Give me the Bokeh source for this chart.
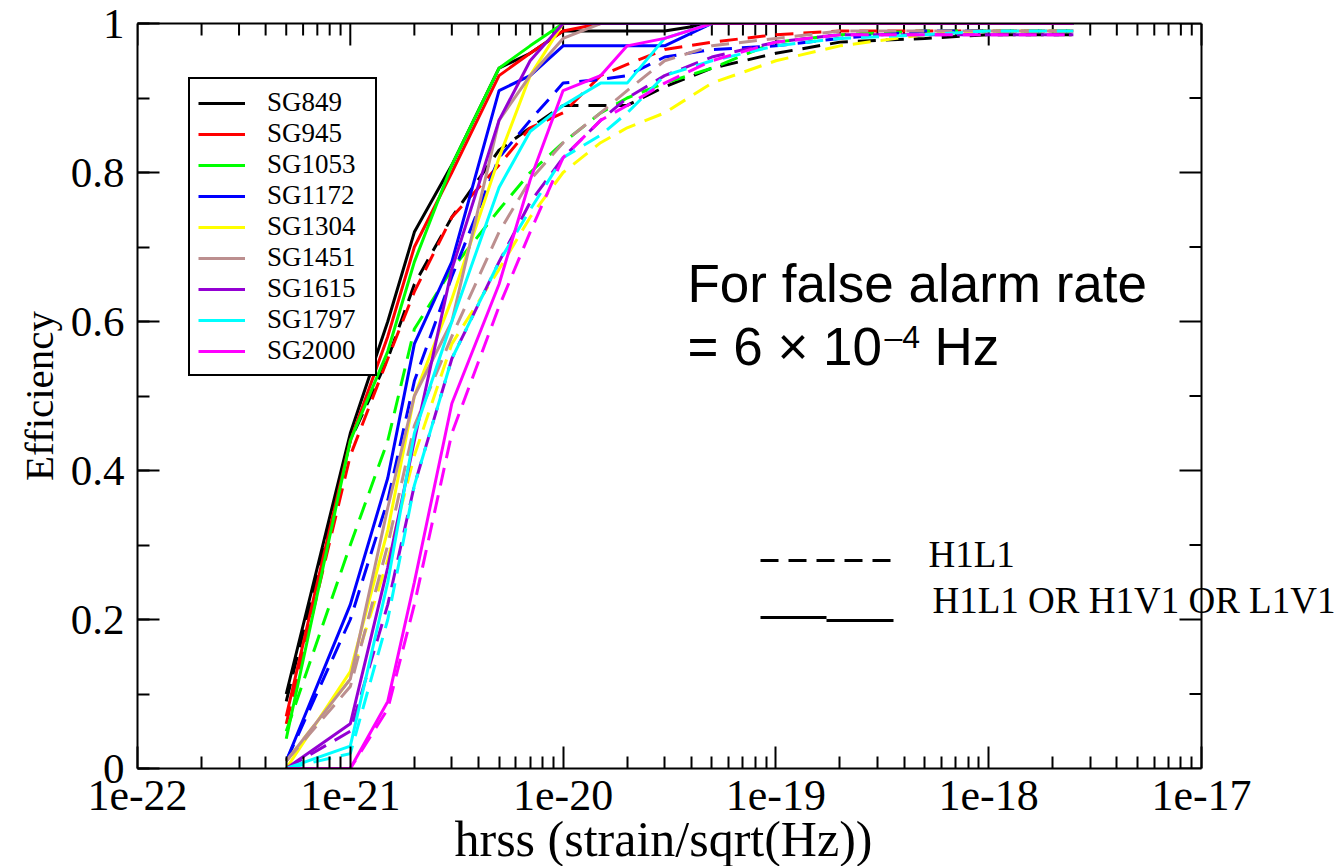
import math
from bokeh.plotting import figure
from bokeh.models import (Range1d, Legend, LegendItem, Label, FixedTicker, Span, Arrow, Title,
                          SingleIntervalTicker, CustomJSTickFormatter, LogAxis)
from bokeh.embed import file_html
from bokeh.resources import INLINE

# ---------------- data ----------------
hrss = [5e-22, 1e-21, 1.5e-21, 2e-21, 3e-21, 5e-21, 7e-21, 1e-20, 1.5e-20, 2e-20,
        3e-20, 5e-20, 1e-19, 2e-19, 5e-19, 1e-18, 2.5e-18]

names = ["SG849", "SG945", "SG1053", "SG1172", "SG1304", "SG1451", "SG1615", "SG1797", "SG2000"]
colors = ["#000000", "#ff0000", "#00ff00", "#0000ff", "#ffff00", "#bc8f8f", "#9400d3", "#00ffff", "#ff00ff"]

# network "H1L1 OR H1V1 OR L1V1" (solid)
eff_or_sg849 = [0.10, 0.45, 0.60, 0.72, 0.81, 0.94, 0.96, 0.99, 0.99, 0.99, 0.99, 1, 1, 1, 1, 1, 1]
eff_or_sg945 = [0.07, 0.44, 0.58, 0.70, 0.80, 0.93, 0.96, 0.99, 1, 1, 1, 1, 1, 1, 1, 1, 1]
eff_or_sg1053 = [0.04, 0.44, 0.56, 0.68, 0.81, 0.94, 0.97, 1, 1, 1, 1, 1, 1, 1, 1, 1, 1]
eff_or_sg1172 = [0.01, 0.22, 0.39, 0.57, 0.68, 0.91, 0.93, 0.97, 0.97, 0.97, 0.97, 1, 1, 1, 1, 1, 1]
eff_or_sg1304 = [0.0, 0.13, 0.32, 0.50, 0.63, 0.82, 0.93, 1, 1, 1, 1, 1, 1, 1, 1, 1, 1]
eff_or_sg1451 = [0.01, 0.12, 0.35, 0.50, 0.60, 0.87, 0.93, 0.98, 1, 1, 1, 1, 1, 1, 1, 1, 1]
eff_or_sg1615 = [0.0, 0.06, 0.27, 0.44, 0.67, 0.87, 0.95, 1, 1, 1, 1, 1, 1, 1, 1, 1, 1]
eff_or_sg1797 = [0.0, 0.03, 0.25, 0.45, 0.60, 0.78, 0.855, 0.89, 0.92, 0.92, 0.98, 1, 1, 1, 1, 1, 1]
eff_or_sg2000 = [0.0, 0.0, 0.09, 0.25, 0.49, 0.65, 0.79, 0.91, 0.93, 0.97, 0.98, 1, 1, 1, 1, 1, 1]

# network "H1L1" (dashed)
eff_h1l1_sg849 = [0.09, 0.44, 0.55, 0.65, 0.74, 0.83, 0.86, 0.89, 0.89, 0.89, 0.915, 0.94, 0.96, 0.975, 0.98, 0.985, 0.985]
eff_h1l1_sg945 = [0.06, 0.42, 0.55, 0.64, 0.74, 0.81, 0.86, 0.88, 0.93, 0.945, 0.965, 0.975, 0.985, 0.99, 0.99, 0.99, 0.99]
eff_h1l1_sg1053 = [0.05, 0.30, 0.44, 0.59, 0.67, 0.75, 0.80, 0.84, 0.88, 0.90, 0.92, 0.94, 0.975, 0.985, 0.99, 0.99, 0.99]
eff_h1l1_sg1172 = [0.01, 0.20, 0.36, 0.52, 0.66, 0.82, 0.87, 0.92, 0.925, 0.93, 0.955, 0.965, 0.97, 0.98, 0.99, 0.99, 0.99]
eff_h1l1_sg1304 = [0.01, 0.12, 0.28, 0.42, 0.57, 0.67, 0.74, 0.80, 0.84, 0.86, 0.88, 0.92, 0.95, 0.97, 0.985, 0.99, 0.99]
eff_h1l1_sg1451 = [0.01, 0.11, 0.30, 0.46, 0.58, 0.72, 0.79, 0.84, 0.88, 0.91, 0.95, 0.97, 0.98, 0.99, 0.99, 0.99, 0.99]
eff_h1l1_sg1615 = [0.0, 0.05, 0.22, 0.38, 0.55, 0.68, 0.76, 0.82, 0.87, 0.90, 0.93, 0.955, 0.975, 0.985, 0.985, 0.985, 0.985]
eff_h1l1_sg1797 = [0.0, 0.02, 0.20, 0.38, 0.55, 0.68, 0.75, 0.82, 0.85, 0.88, 0.93, 0.95, 0.97, 0.98, 0.985, 0.99, 0.99]
eff_h1l1_sg2000 = [0.0, 0.0, 0.08, 0.22, 0.45, 0.62, 0.72, 0.82, 0.87, 0.89, 0.92, 0.95, 0.975, 0.985, 0.985, 0.985, 0.985]

eff_or = [eff_or_sg849, eff_or_sg945, eff_or_sg1053, eff_or_sg1172, eff_or_sg1304,
          eff_or_sg1451, eff_or_sg1615, eff_or_sg1797, eff_or_sg2000]
eff_h1l1 = [eff_h1l1_sg849, eff_h1l1_sg945, eff_h1l1_sg1053, eff_h1l1_sg1172, eff_h1l1_sg1304,
            eff_h1l1_sg1451, eff_h1l1_sg1615, eff_h1l1_sg1797, eff_h1l1_sg2000]

x_decades = [-22, -21, -20, -19, -18, -17]
y_major = [0, 0.2, 0.4, 0.6, 0.8, 1.0]
y_minor = [0.1, 0.3, 0.5, 0.7, 0.9]

x_title = "hrss (strain/sqrt(Hz))"
y_title = "Efficiency"
net_labels = ["H1L1", "H1L1 OR H1V1 OR L1V1"]

# ---------------- layout constants ----------------
W, H = 1338, 866
LEFT, TOP, BOTTOM = 137, 23, 98
BOX_W = 1064                       # width of the drawn plot box (5 decades)
DEC_PX = BOX_W / (len(x_decades) - 1)
x_lo = 10.0 ** x_decades[0]
x_hi = 10.0 ** x_decades[-1]
# the frame runs on to the right edge so the legend text is not clipped
x_frame_end = 10.0 ** (x_decades[-1] + (W - LEFT - BOX_W) / DEC_PX)

SERIF = "Liberation Serif"
SANS = "Liberation Sans"

p = figure(width=W, height=H, x_axis_type="log",
           x_range=Range1d(x_lo, x_frame_end), y_range=Range1d(0, 1),
           output_backend="svg", toolbar_location=None,
           min_border_left=LEFT, min_border_right=0, min_border_top=TOP, min_border_bottom=BOTTOM)
p.grid.visible = False
p.outline_line_color = None
p.background_fill_color = "white"
p.border_fill_color = "white"

major_x = [10.0 ** e for e in x_decades]
minor_x = [m * 10.0 ** e for e in x_decades[:-1] for m in range(2, 10)]
xticker = FixedTicker(ticks=major_x, minor_ticks=minor_x)
yticker = SingleIntervalTicker(interval=0.2, num_minor_ticks=2)

xfmt = CustomJSTickFormatter(code="return '1e' + Math.round(Math.log10(tick));")
yfmt = CustomJSTickFormatter(code="return String(Number(tick.toFixed(1)));")


def style_axis(ax, size):
    ax.axis_line_width = 2
    ax.axis_line_color = "black"
    ax.major_tick_line_width = 2
    ax.minor_tick_line_width = 2
    ax.major_tick_line_color = "black"
    ax.minor_tick_line_color = "black"
    ax.major_tick_in = 22
    ax.major_tick_out = 0
    ax.minor_tick_in = 12
    ax.minor_tick_out = 0
    ax.major_label_text_font = SERIF
    ax.major_label_text_color = "black"
    ax.major_label_text_font_size = size


xa = p.xaxis[0]
xa.ticker = xticker
xa.formatter = xfmt
xa.bounds = (x_lo, x_hi)
style_axis(xa, "44px")
xa.major_label_standoff = 12

ya = p.yaxis[0]
ya.ticker = yticker
ya.formatter = yfmt
style_axis(ya, "43px")
ya.major_label_standoff = 13
ya.axis_label = y_title
ya.axis_label_text_font = SERIF
ya.axis_label_text_font_style = "normal"
ya.axis_label_text_font_size = "41px"
ya.axis_label_text_color = "black"
ya.axis_label_standoff = 6

# x title centred under the drawn plot box (not under the extended frame)
XT_SIZE = 50
xt_width = 8.36 * XT_SIZE
xt_center = LEFT + BOX_W / 2 - 6
p.add_layout(Title(text=x_title, align="left", offset=xt_center - xt_width / 2 - LEFT,
                   text_font=SERIF, text_font_size=f"{XT_SIZE}px", text_font_style="normal",
                   text_color="black", standoff=-8), "below")

# top border line (no labels), limited to the plot box
top = LogAxis(ticker=FixedTicker(ticks=[]), bounds=(x_lo, x_hi))
top.axis_line_width = 2
top.axis_line_color = "black"
top.major_tick_line_color = None
top.minor_tick_line_color = None
p.add_layout(top, "above")

# right border line of the plot box
p.add_layout(Span(location=x_hi, dimension="height", line_color="black", line_width=2))

# mirrored inward ticks on the top and right sides
p.ray(x=major_x, y=[y_major[-1]] * len(major_x), length=22, length_units="screen",
      angle=-math.pi / 2, line_color="black", line_width=2)
p.ray(x=minor_x, y=[y_major[-1]] * len(minor_x), length=12, length_units="screen",
      angle=-math.pi / 2, line_color="black", line_width=2)
p.ray(x=[x_hi] * len(y_major), y=y_major, length=22, length_units="screen",
      angle=math.pi, line_color="black", line_width=2)
p.ray(x=[x_hi] * len(y_minor), y=y_minor, length=12, length_units="screen",
      angle=math.pi, line_color="black", line_width=2)

DASH = "18 10"
solid_renderers = []
for name, col, ys_d, ys_s in zip(names, colors, eff_h1l1, eff_or):
    p.line(hrss, ys_d, line_color=col, line_width=3, line_dash=DASH)
    rs = p.line(hrss, ys_s, line_color=col, line_width=3)
    solid_renderers.append(rs)

leg1 = Legend(items=[LegendItem(label=n, renderers=[r]) for n, r in zip(names, solid_renderers)],
              location=(51, 392), margin=0, padding=8, spacing=0,
              glyph_width=47, glyph_height=28, label_height=28, label_width=100, label_standoff=22,
              label_text_font=SERIF, label_text_font_size="27px", label_text_color="black",
              border_line_color="black", border_line_width=2, border_line_alpha=1,
              background_fill_color="white", background_fill_alpha=1)
p.add_layout(leg1, "center")

# line-style key (screen offsets from the frame's bottom-left corner)
p.add_layout(Arrow(x_start=623, y_start=208, x_end=753, y_end=208,
                   start_units="screen", end_units="screen", start=None, end=None,
                   line_color="black", line_width=3, line_dash=DASH))
p.add_layout(Arrow(x_start=623, y_start=151, x_end=689, y_end=151,
                   start_units="screen", end_units="screen", start=None, end=None,
                   line_color="black", line_width=3))
p.add_layout(Arrow(x_start=689, y_start=148, x_end=756, y_end=148,
                   start_units="screen", end_units="screen", start=None, end=None,
                   line_color="black", line_width=3))
p.add_layout(Label(x=791, y=214, x_units="screen", y_units="screen", text=net_labels[0],
                   text_font=SERIF, text_font_size="37px", text_color="black",
                   text_baseline="middle"))
p.add_layout(Label(x=795, y=168, x_units="screen", y_units="screen", text=net_labels[1],
                   text_font=SERIF, text_font_size="37px", text_color="black",
                   text_baseline="middle"))

p.add_layout(Label(x=550, y=485, x_units="screen", y_units="screen", text="For false alarm rate",
                   text_font=SANS, text_font_size="53px", text_color="black",
                   text_baseline="middle"))
p.add_layout(Label(x=550, y=422, x_units="screen", y_units="screen", text="= 6 × 10",
                   text_font=SANS, text_font_size="53px", text_color="black",
                   text_baseline="middle"))
p.add_layout(Label(x=747, y=432, x_units="screen", y_units="screen", text="–4",
                   text_font=SANS, text_font_size="32px", text_color="black",
                   text_baseline="middle"))
p.add_layout(Label(x=797, y=422, x_units="screen", y_units="screen", text="Hz",
                   text_font=SANS, text_font_size="53px", text_color="black",
                   text_baseline="middle"))

open("out.html", "w").write(file_html(p, INLINE))
